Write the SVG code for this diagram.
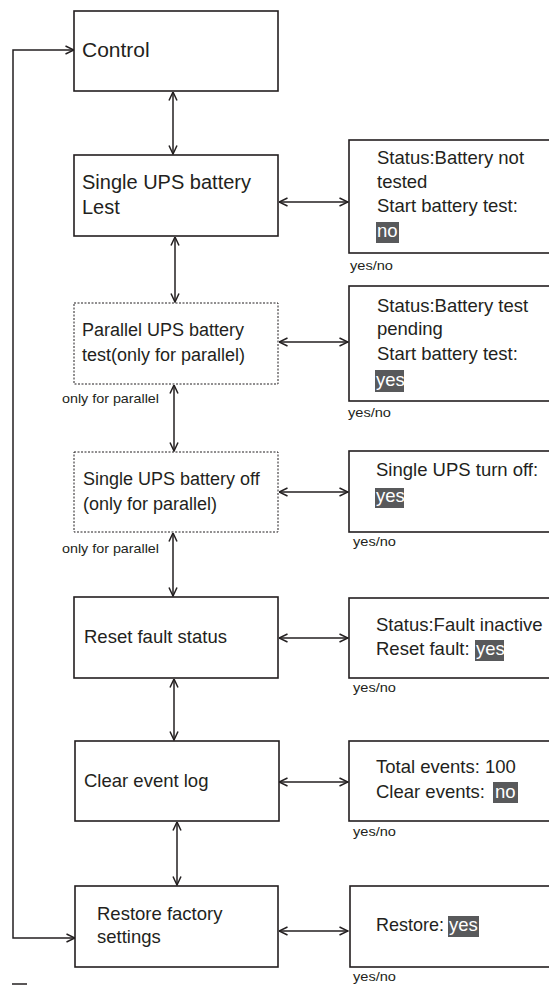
<svg xmlns="http://www.w3.org/2000/svg" width="549" height="985" viewBox="0 0 549 985">
<style>
.box{fill:#fff;stroke:#231f20;stroke-width:1.6}
.dbox{fill:#fff;stroke:#231f20;stroke-width:1;stroke-dasharray:2 1.5}
.t{font-family:"Liberation Sans",Arial,sans-serif;font-size:18.5px;fill:#231f20}
.s{font-family:"Liberation Sans",Arial,sans-serif;font-size:13px;fill:#231f20}
.hl{fill:#58595b}
.ht{font-family:"Liberation Sans",Arial,sans-serif;font-size:18.5px;fill:#fff}
.c{fill:none;stroke:#231f20;stroke-width:1.5}
</style>
<defs>
<marker id="ah" viewBox="0 0 10 10" refX="9.5" refY="5" markerWidth="10" markerHeight="10" markerUnits="userSpaceOnUse" orient="auto-start-reverse">
<path d="M1,1 L9.5,5 L1,9" fill="none" stroke="#231f20" stroke-width="1.5"/>
</marker>
</defs>
<rect width="549" height="985" fill="#fff"/>
<g id="connectors">
<path class="c" d="M74,50 H13 V938 H75" marker-start="url(#ah)" marker-end="url(#ah)"/>
<line class="c" x1="173" y1="92" x2="173" y2="154" marker-start="url(#ah)" marker-end="url(#ah)"/>
<line class="c" x1="175" y1="237" x2="175" y2="302" marker-start="url(#ah)" marker-end="url(#ah)"/>
<line class="c" x1="174" y1="385" x2="174" y2="451" marker-start="url(#ah)" marker-end="url(#ah)"/>
<line class="c" x1="173" y1="533" x2="173" y2="596" marker-start="url(#ah)" marker-end="url(#ah)"/>
<line class="c" x1="174" y1="679" x2="174" y2="740" marker-start="url(#ah)" marker-end="url(#ah)"/>
<line class="c" x1="177" y1="822" x2="177" y2="885" marker-start="url(#ah)" marker-end="url(#ah)"/>
<line class="c" x1="279" y1="202" x2="348" y2="202" marker-start="url(#ah)" marker-end="url(#ah)"/>
<line class="c" x1="279" y1="342" x2="348" y2="342" marker-start="url(#ah)" marker-end="url(#ah)"/>
<line class="c" x1="279" y1="492" x2="348" y2="492" marker-start="url(#ah)" marker-end="url(#ah)"/>
<line class="c" x1="279" y1="638" x2="348" y2="638" marker-start="url(#ah)" marker-end="url(#ah)"/>
<line class="c" x1="279" y1="782" x2="348" y2="782" marker-start="url(#ah)" marker-end="url(#ah)"/>
<line class="c" x1="279" y1="931" x2="348" y2="931" marker-start="url(#ah)" marker-end="url(#ah)"/>
</g>
<g id="control">
<rect class="box" x="74" y="11" width="204" height="80"/>
<text class="t" x="82" y="57" style="font-size:21px">Control</text>
</g>
<g id="single-test">
<rect class="box" x="74" y="155" width="204" height="81"/>
<text class="t" x="82" y="189" style="font-size:20px">Single UPS battery</text>
<text class="t" x="82" y="214" style="font-size:20px">Lest</text>
</g>
<g id="parallel-test">
<rect class="dbox" x="74" y="303" width="204" height="81"/>
<text class="t" x="82" y="336" style="font-size:18px">Parallel UPS battery</text>
<text class="t" x="82" y="361" style="font-size:18px">test(only for parallel)</text>
<text class="s" x="62" y="403" textLength="97" lengthAdjust="spacingAndGlyphs">only for parallel</text>
</g>
<g id="single-off">
<rect class="dbox" x="74" y="452" width="204" height="80"/>
<text class="t" x="83" y="485" style="font-size:18px">Single UPS battery off</text>
<text class="t" x="83" y="510" style="font-size:18px">(only for parallel)</text>
<text class="s" x="62" y="553" textLength="97" lengthAdjust="spacingAndGlyphs">only for parallel</text>
</g>
<g id="reset-fault">
<rect class="box" x="74" y="597" width="204" height="81"/>
<text class="t" x="84" y="643">Reset fault status</text>
</g>
<g id="clear-log">
<rect class="box" x="75" y="741" width="204" height="80"/>
<text class="t" x="84" y="787">Clear event log</text>
</g>
<g id="restore">
<rect class="box" x="75" y="886" width="203" height="81"/>
<text class="t" x="97" y="920">Restore factory</text>
<text class="t" x="97" y="943">settings</text>
</g>
<g id="r-single-test">
<rect class="box" x="349" y="140" width="210" height="113"/>
<text class="t" x="377" y="164">Status:Battery not</text>
<text class="t" x="377" y="188">tested</text>
<text class="t" x="377" y="212">Start battery test:</text>
<rect class="hl" x="376" y="222" width="23" height="21"/>
<text class="ht" x="377" y="237">no</text>
<text class="s" x="350" y="270" textLength="43" lengthAdjust="spacingAndGlyphs">yes/no</text>
</g>
<g id="r-parallel-test">
<rect class="box" x="349" y="286" width="210" height="115"/>
<text class="t" x="377" y="312">Status:Battery test</text>
<text class="t" x="377" y="335">pending</text>
<text class="t" x="377" y="360">Start battery test:</text>
<rect class="hl" x="375" y="370" width="29" height="22"/>
<text class="ht" x="376" y="386">yes</text>
<text class="s" x="348" y="417" textLength="43" lengthAdjust="spacingAndGlyphs">yes/no</text>
</g>
<g id="r-single-off">
<rect class="box" x="349" y="451" width="210" height="81"/>
<text class="t" x="376" y="476">Single UPS turn off:</text>
<rect class="hl" x="375" y="488" width="29" height="20"/>
<text class="ht" x="376" y="502">yes</text>
<text class="s" x="353" y="546" textLength="43" lengthAdjust="spacingAndGlyphs">yes/no</text>
</g>
<g id="r-reset-fault">
<rect class="box" x="349" y="598" width="210" height="80"/>
<text class="t" x="376" y="631">Status:Fault inactive</text>
<text class="t" x="376" y="655">Reset fault:</text>
<rect class="hl" x="475" y="640" width="29" height="21"/>
<text class="ht" x="476" y="655">yes</text>
<text class="s" x="353" y="692" textLength="43" lengthAdjust="spacingAndGlyphs">yes/no</text>
</g>
<g id="r-clear-log">
<rect class="box" x="349" y="741" width="210" height="80"/>
<text class="t" x="376" y="773">Total events: 100</text>
<text class="t" x="376" y="798">Clear events:</text>
<rect class="hl" x="493" y="782" width="25" height="21"/>
<text class="ht" x="495" y="798">no</text>
<text class="s" x="353" y="836" textLength="43" lengthAdjust="spacingAndGlyphs">yes/no</text>
</g>
<g id="r-restore">
<rect class="box" x="350" y="886" width="210" height="81"/>
<text class="t" x="376" y="931" textLength="68" lengthAdjust="spacingAndGlyphs">Restore:</text>
<rect class="hl" x="448" y="916" width="31" height="21"/>
<text class="ht" x="449" y="931">yes</text>
<text class="s" x="353" y="981" textLength="43" lengthAdjust="spacingAndGlyphs">yes/no</text>
</g>
<line x1="12" y1="984" x2="27" y2="984" stroke="#231f20" stroke-width="1.5"/>
</svg>
